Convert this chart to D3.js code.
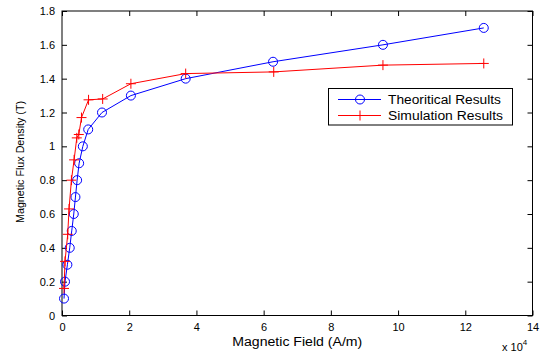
<!DOCTYPE html>
<html>
<head>
<meta charset="utf-8">
<script src="https://cdn.jsdelivr.net/npm/d3@7"></script>
<style>
  html, body { margin: 0; padding: 0; background: #fff; }
  svg { display: block; }
  text { font-family: "Liberation Sans", Arial, Helvetica, sans-serif; fill: #000; }
</style>
</head>
<body>
<svg id="chart" width="542" height="353"></svg>
<script>
// Magnetic field strength H (A/m) and flux density B (T)
const theoreticalH = [600, 900, 1600, 2300, 2900, 3500, 4000, 4500, 5100, 6200, 7800, 11900, 20500, 36800, 62800, 95500, 125500];
const theoreticalB = [0.1, 0.2, 0.3, 0.4, 0.5, 0.6, 0.7, 0.8, 0.9, 1.0, 1.1, 1.2, 1.3, 1.4, 1.5, 1.6, 1.7];

const simulationH = [600, 900, 1700, 2100, 2800, 3600, 4400, 5000, 5800, 7900, 12100, 20500, 36800, 63000, 95500, 125500];
const simulationB = [0.16, 0.32, 0.48, 0.63, 0.80, 0.92, 1.05, 1.07, 1.17, 1.275, 1.28, 1.37, 1.43, 1.44, 1.48, 1.49];

const xTicks = [0, 20000, 40000, 60000, 80000, 100000, 120000, 140000];
const yTicks = [0, 0.2, 0.4, 0.6, 0.8, 1.0, 1.2, 1.4, 1.6, 1.8];

const seriesNames = ["Theoritical Results", "Simulation Results"];
const seriesColors = ["#0000ff", "#ff0000"];

const svg = d3.select("#chart");
const plotLeft = 62, plotRight = 532.5, plotTop = 11, plotBottom = 315.5;

const x = d3.scaleLinear().domain([0, 140000]).range([plotLeft, plotRight]);
const y = d3.scaleLinear().domain([0, 1.8]).range([plotBottom, plotTop]);

const tickLen = 5;
const fmtX = d => String(d / 10000);
const fmtY = d => String(+d.toFixed(1));

// Inward ticks on all four sides
const bottomAxis = d3.axisBottom(x).tickValues(xTicks).tickSize(-tickLen).tickPadding(8).tickFormat(fmtX);
const topAxis = d3.axisTop(x).tickValues(xTicks).tickSize(-tickLen).tickFormat("");
const leftAxis = d3.axisLeft(y).tickValues(yTicks).tickSize(-tickLen).tickPadding(7).tickFormat(fmtY);
const rightAxis = d3.axisRight(y).tickValues(yTicks).tickSize(-tickLen).tickFormat("");

function styleAxis(g) {
  g.select(".domain").remove();
  g.selectAll(".tick line").attr("stroke", "#000").attr("stroke-width", 1);
  g.selectAll(".tick text").attr("font-size", 11).attr("fill", "#000")
    .attr("font-family", "'Liberation Sans', Arial, sans-serif");
}

svg.append("g").attr("transform", `translate(0,${plotBottom})`).call(bottomAxis).call(styleAxis);
svg.append("g").attr("transform", `translate(0,${plotTop})`).call(topAxis).call(styleAxis);
svg.append("g").attr("transform", `translate(${plotLeft},0)`).call(leftAxis).call(styleAxis);
svg.append("g").attr("transform", `translate(${plotRight},0)`).call(rightAxis).call(styleAxis);

// Plot frame
svg.append("rect")
  .attr("x", plotLeft).attr("y", plotTop)
  .attr("width", plotRight - plotLeft).attr("height", plotBottom - plotTop)
  .attr("fill", "none").attr("stroke", "#000").attr("stroke-width", 1);

const line = d3.line().x(d => x(d[0])).y(d => y(d[1]));

const theoretical = theoreticalH.map((h, i) => [h, theoreticalB[i]]);
const simulation = simulationH.map((h, i) => [h, simulationB[i]]);

const plot = svg.append("g");

// Theoretical curve with circle markers
plot.append("path").datum(theoretical).attr("d", line)
  .attr("fill", "none").attr("stroke", seriesColors[0]).attr("stroke-width", 1);
plot.selectAll("circle.th").data(theoretical).join("circle")
  .attr("class", "th")
  .attr("cx", d => x(d[0])).attr("cy", d => y(d[1])).attr("r", 4.5)
  .attr("fill", "none").attr("stroke", seriesColors[0]).attr("stroke-width", 1);

// Simulation curve with plus markers
const plus = (cx, cy, s) => `M${cx - s},${cy}H${cx + s}M${cx},${cy - s}V${cy + s}`;
plot.append("path").datum(simulation).attr("d", line)
  .attr("fill", "none").attr("stroke", seriesColors[1]).attr("stroke-width", 1);
plot.selectAll("path.sim").data(simulation).join("path")
  .attr("class", "sim")
  .attr("d", d => plus(x(d[0]), y(d[1]), 5))
  .attr("fill", "none").attr("stroke", seriesColors[1]).attr("stroke-width", 1);

// Axis titles
svg.append("text")
  .attr("x", (plotLeft + plotRight) / 2).attr("y", 345.5)
  .attr("text-anchor", "middle").attr("font-size", 12)
  .attr("textLength", 130).attr("lengthAdjust", "spacingAndGlyphs")
  .text("Magnetic Field (A/m)");

svg.append("text")
  .attr("transform", `translate(24,162) rotate(-90)`)
  .attr("text-anchor", "middle").attr("font-size", 11)
  .attr("textLength", 122).attr("lengthAdjust", "spacingAndGlyphs")
  .text("Magnetic Flux Density (T)");

// Exponent of the x-axis scale
const expo = svg.append("text").attr("x", 502).attr("y", 351).attr("font-size", 11);
expo.append("tspan").text("x 10");
expo.append("tspan").attr("dy", -6).attr("font-size", 8).text("4");

// Legend
const legend = svg.append("g");
legend.append("rect")
  .attr("x", 328.5).attr("y", 88.5).attr("width", 184).attr("height", 36.5)
  .attr("fill", "#fff").attr("stroke", "#000").attr("stroke-width", 1);

const rowY = [99.5, 115.5];
seriesNames.forEach((name, i) => {
  const ly = rowY[i];
  legend.append("line")
    .attr("x1", 338).attr("x2", 381).attr("y1", ly).attr("y2", ly)
    .attr("stroke", seriesColors[i]).attr("stroke-width", 1);
  if (i === 0) {
    legend.append("circle").attr("cx", 360).attr("cy", ly).attr("r", 4.5)
      .attr("fill", "none").attr("stroke", seriesColors[i]);
  } else {
    legend.append("path").attr("d", plus(360, ly, 5))
      .attr("fill", "none").attr("stroke", seriesColors[i]);
  }
  legend.append("text")
    .attr("x", 388).attr("y", ly + 4.5)
    .attr("font-size", 12.5)
    .attr("textLength", i === 0 ? 113 : 115).attr("lengthAdjust", "spacingAndGlyphs")
    .text(name);
});
</script>
</body>
</html>
